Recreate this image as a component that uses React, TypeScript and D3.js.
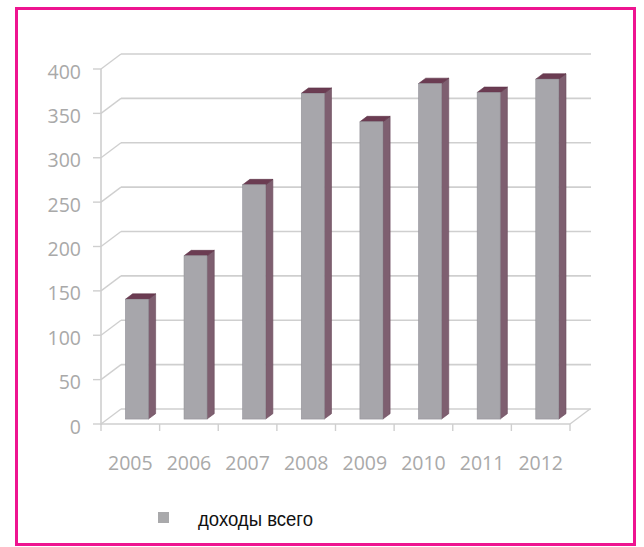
import React from "react";
import * as d3 from "d3";

const years = ["2005", "2006", "2007", "2008", "2009", "2010", "2011", "2012"];
const income = [135, 184, 264, 367, 335, 378, 368, 383];
const yTicks = [0, 50, 100, 150, 200, 250, 300, 350, 400];
const seriesName = "доходы всего";

const W = 644;
const H = 547;
const DX = 20;
const DY = -15;
const F0 = 0.33;
const F1 = 0.69;
const BAR_W = 23;

export default function App() {
  const x = d3.scaleBand<string>().domain(years).range([101, 570]).padding(0);
  const y = d3.scaleLinear().domain([0, 400]).range([424, 69]);
  const bw = x.bandwidth();
  const gridColor = "#cfcfcf";
  const edges = d3.range(years.length + 1).map((i) => 101 + i * bw);

  return (
    <svg
      width={W}
      height={H}
      style={{ position: "fixed", left: 0, top: 0, background: "#fff" }}
    >
      <rect x={0} y={0} width={W} height={H} fill="#fff" />
      {yTicks.map((t) => (
        <g key={t}>
          <line
            x1={101 + DX}
            x2={570 + DX + 1}
            y1={y(t) + DY}
            y2={y(t) + DY}
            stroke={gridColor}
            strokeWidth={1.6}
          />
          <line
            x1={101}
            y1={y(t)}
            x2={101 + DX}
            y2={y(t) + DY}
            stroke={gridColor}
            strokeWidth={1.4}
          />
          <line x1={93} x2={101} y1={y(t)} y2={y(t)} stroke={gridColor} strokeWidth={1.4} />
          <text
            x={81}
            y={y(t) + 2}
            textAnchor="end"
            dominantBaseline="central"
            fontFamily="'Open Sans', sans-serif"
            fontSize={19.5}
            fill="#a9a9a9"
          >
            {t}
          </text>
        </g>
      ))}
      <line x1={101} x2={101} y1={y(400)} y2={y(0) + 1} stroke={gridColor} strokeWidth={1.6} />
      <line x1={101} x2={570} y1={y(0)} y2={y(0)} stroke={gridColor} strokeWidth={1.6} />
      <line x1={570} y1={y(0)} x2={570 + DX} y2={y(0) + DY} stroke={gridColor} strokeWidth={1.4} />
      {edges.map((e, i) => (
        <line key={i} x1={e} x2={e} y1={y(0)} y2={y(0) + 7} stroke={gridColor} strokeWidth={1.4} />
      ))}
      {years.map((yr, i) => {
        const v = income[i];
        const cx = (x(yr) as number) + bw / 2;
        const fx = cx + DX * F0 - BAR_W / 2;
        const fxr = fx + BAR_W;
        const fyT = y(v) + DY * F0;
        const fyB = y(0) + DY * F0;
        const ddx = DX * (F1 - F0);
        const ddy = DY * (F1 - F0);
        const side = `M${fxr},${fyT} L${fxr + ddx},${fyT + ddy} L${fxr + ddx},${fyB + ddy} L${fxr},${fyB} Z`;
        const top = `M${fx},${fyT} L${fx + ddx},${fyT + ddy} L${fxr + ddx},${fyT + ddy} L${fxr},${fyT} Z`;
        return (
          <g key={yr}>
            <path d={side} fill="#7e5f70" stroke="#6a4a5a" strokeWidth={0.6} />
            <path d={top} fill="#6b3c52" stroke="#5c3346" strokeWidth={0.6} />
            <rect
              x={fx}
              y={fyT}
              width={BAR_W}
              height={fyB - fyT}
              fill="#a7a6ab"
              stroke="#929198"
              strokeWidth={0.6}
            />
          </g>
        );
      })}
      {years.map((yr) => (
        <text
          key={yr}
          x={(x(yr) as number) + bw / 2}
          y={462}
          textAnchor="middle"
          dominantBaseline="central"
          fontFamily="'Open Sans', sans-serif"
          fontSize={19.5}
          fill="#a9a9a9"
        >
          {yr}
        </text>
      ))}
      <rect x={158} y={512} width={11} height={11} fill="#a9a9ab" />
      <text
        x={198}
        y={526}
        fontFamily="'Liberation Sans', Arial, sans-serif"
        fontSize={20}
        fill="#111"
        textLength={115}
        lengthAdjust="spacingAndGlyphs"
      >
        {seriesName}
      </text>
      <rect
        x={16.5}
        y={8.5}
        width={618}
        height={536}
        fill="none"
        stroke="#ee1490"
        strokeWidth={3}
      />
    </svg>
  );
}
